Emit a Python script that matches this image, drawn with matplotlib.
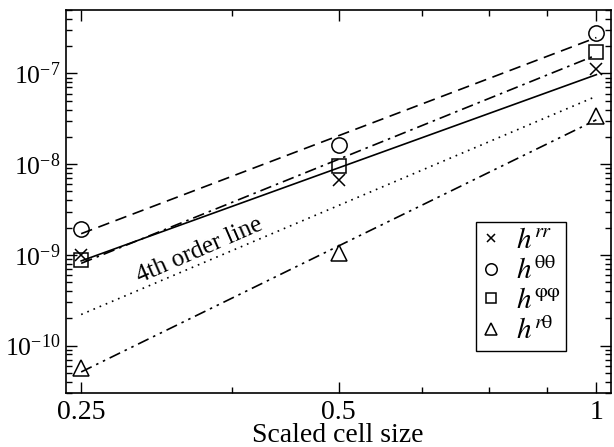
import numpy as np
import matplotlib
matplotlib.use("Agg")
import matplotlib.pyplot as plt
from matplotlib.ticker import FixedLocator, FixedFormatter, NullFormatter, LogLocator

plt.rcParams['font.family'] = ['Liberation Serif', 'DejaVu Serif']
plt.rcParams['mathtext.fontset'] = 'stix'

# data
cell_size = [0.25, 0.5, 1.0]
h_rr = [1.0e-9, 6.7e-9, 1.13e-7]
h_thth = [1.93e-9, 1.62e-8, 2.8e-7]
h_phph = [0.88e-9, 9.5e-9, 1.74e-7]
h_rth = [5.6e-11, 1.05e-9, 3.37e-8]
order4_line = [2.2e-10, 5.6e-8]   # reference line at x = 0.25 and 1

series = [
    (h_rr, 'x', '-', r'$h^{rr}$'),
    (h_thth, 'o', (0, (7, 4)), r'$h^{\mathrm{θθ}}$'),
    (h_phph, 's', (0, (7, 3, 1.5, 3)), r'$h^{\mathrm{φφ}}$'),
    (h_rth, '^', (0, (7, 3, 1.5, 3, 1.5, 3)), r'$h^{r\mathrm{θ}}$'),
]
msizes = {'x': 8, 'o': 11, 's': 10, '^': 11}

fig = plt.figure(figsize=(6.14, 4.47), dpi=100)
ax = fig.add_axes([0.1075, 0.1208, 0.8875, 0.8568])
ax.set_xscale('log')
ax.set_yscale('log')

x = np.array(cell_size)
xe = np.array([cell_size[0], cell_size[-1]])
handles = []
for vals, mk, ls, lab in series:
    # power-law fit through the points
    p = np.polyfit(np.log10(x), np.log10(vals), 1)
    ax.plot(xe, 10 ** np.polyval(p, np.log10(xe)), color='black', ls=ls, lw=1.2)
    hd, = ax.plot(cell_size, vals, ls='none', marker=mk, ms=msizes[mk],
                  mfc='none', mec='black', mew=1.1, label=lab)
    handles.append(hd)

ax.plot(xe, order4_line, color='black', ls=(0, (1, 3)), lw=1.2)
ax.text(0.344, 1.12e-9, '4th order line', rotation=23.5, fontsize=18,
        ha='center', va='center', rotation_mode='anchor')

ax.set_xlim(0.24, 1.04)
ax.set_ylim(3e-11, 5e-7)

ax.xaxis.set_major_locator(FixedLocator([0.25, 0.5, 1.0]))
ax.xaxis.set_major_formatter(FixedFormatter(['0.25', '0.5', '1']))
ax.xaxis.set_minor_locator(FixedLocator([0.375, 0.625, 0.75, 0.875]))
ax.xaxis.set_minor_formatter(NullFormatter())
ax.yaxis.set_major_locator(FixedLocator([1e-10, 1e-9, 1e-8, 1e-7]))
ax.yaxis.set_minor_locator(LogLocator(base=10, subs=np.arange(2, 10), numticks=20))
ax.yaxis.set_minor_formatter(NullFormatter())

ax.tick_params(which='both', direction='in', top=True, right=True, width=1.0)
ax.tick_params(which='major', length=8)
ax.tick_params(which='minor', length=4.5)
ax.tick_params(axis='x', labelsize=20, pad=5)
ax.tick_params(axis='y', labelsize=18.5, pad=4)
for s in ax.spines.values():
    s.set_linewidth(1.2)

fig.text(338 / 614, 1 - 442 / 447, 'Scaled cell size', fontsize=20,
         ha='center', va='baseline')

leg = ax.legend(handles=handles, loc='upper left', bbox_to_anchor=(0.753, 0.446),
                fontsize=21, frameon=True, fancybox=False, edgecolor='black',
                framealpha=1, borderpad=0.2, labelspacing=0.1, handlelength=0.6,
                handletextpad=0.55, borderaxespad=0, markerscale=0.75)
leg.get_frame().set_linewidth(1.0)

fig.savefig('out.png', dpi=100)
